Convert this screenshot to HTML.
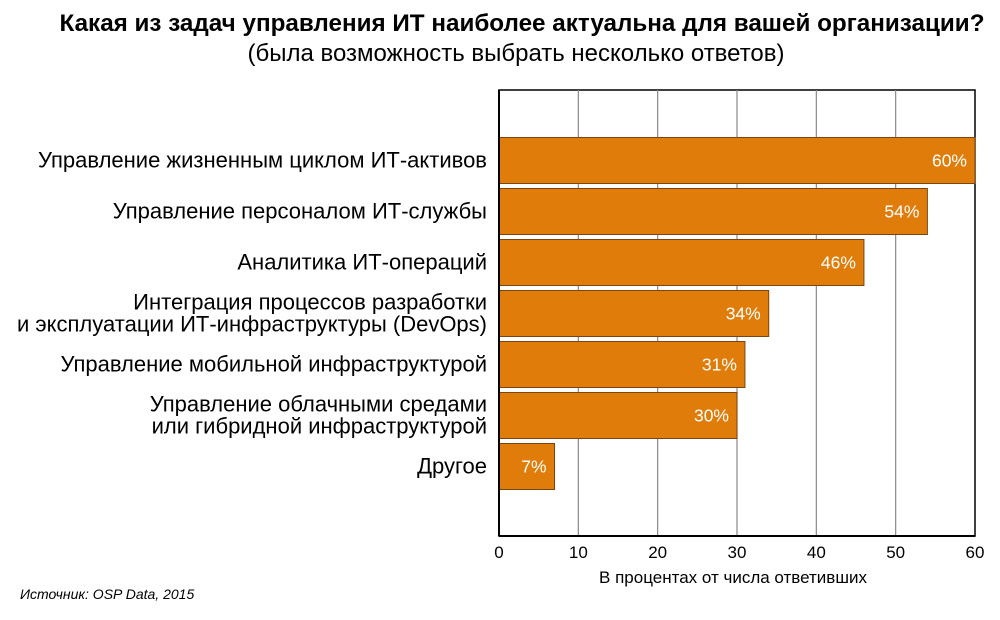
<!DOCTYPE html>
<html><head><meta charset="utf-8"><style>
body{margin:0;background:#fff;width:1000px;height:615px;overflow:hidden;font-family:"Liberation Sans",Arial,sans-serif}
svg text{font-family:"Liberation Sans",Arial,sans-serif}
</style></head><body>
<svg id="c" width="1000" height="615" xmlns="http://www.w3.org/2000/svg">
<text x="522" y="31" text-anchor="middle" font-size="24" font-weight="bold" textLength="925" lengthAdjust="spacingAndGlyphs">Какая из задач управления ИТ наиболее актуальна для вашей организации?</text>
<text x="516" y="61" text-anchor="middle" font-size="24" textLength="537" lengthAdjust="spacingAndGlyphs">(была возможность выбрать несколько ответов)</text>
<g id="grid"></g><g id="bars"></g><g id="labels"></g><g id="ticks"></g>
<text x="733" y="583" text-anchor="middle" font-size="17">В процентах от числа ответивших</text>
<text x="20" y="599" font-size="14" font-style="italic">Источник: OSP Data, 2015</text>
</svg>
<script>
const categories=[["Управление жизненным циклом ИТ-активов"],["Управление персоналом ИТ-службы"],["Аналитика ИТ-операций"],["Интеграция процессов разработки","и эксплуатации ИТ-инфраструктуры (DevOps)"],["Управление мобильной инфраструктурой"],["Управление облачными средами","или гибридной инфраструктурой"],["Другое"]];
const values=[60,54,46,34,31,30,7];
const tickValues=[0,10,20,30,40,50,60];
const NS="http://www.w3.org/2000/svg";
const X0=499,X1=975,Y0=90,Y1=536,max=60;
const x=v=>X0+(X1-X0)*v/max;
const y=i=>137.5+i*51;
function mk(t,a,p){const e=document.createElementNS(NS,t);for(const k in a)e.setAttribute(k,a[k]);document.getElementById(p).appendChild(e);return e;}
mk('rect',{x:X0,y:Y0,width:X1-X0,height:Y1-Y0,fill:'#fff',stroke:'#000','stroke-width':1.5},'grid');
tickValues.forEach(t=>{
 if(t>0&&t<max){const l=mk('line',{x1:x(t),x2:x(t),y1:Y0,y2:Y1,stroke:'#888','stroke-width':1.2},'grid');
 
 }
 const tx=mk('text',{x:x(t),y:558,'text-anchor':'middle','font-size':17},'ticks');tx.textContent=t;
 
 
});
mk('line',{x1:X0,x2:X0,y1:Y0,y2:Y1,stroke:'#000','stroke-width':2},'ticks');
mk('line',{x1:X0,x2:X1,y1:Y1,y2:Y1,stroke:'#000','stroke-width':2},'ticks');
values.forEach((v,i)=>{
 const r=mk('rect',{x:X0,y:y(i),width:x(v)-X0,height:46,fill:'#e07d0a',stroke:'#7a4510','stroke-width':1},'bars');
 
 
 const t=mk('text',{x:x(v)-8,y:y(i)+29,'text-anchor':'end','font-size':17.5,fill:'#fff'},'bars');t.textContent=v+'%';
 
 
 const c=categories[i];
 c.forEach((line,j)=>{
  const ly=y(i)+30+(j-(c.length-1)/2)*22;
  const lt=mk('text',{x:487,y:ly,'text-anchor':'end','font-size':22},'labels');lt.textContent=line;
  
  
 });
});
</script>
</body></html>
